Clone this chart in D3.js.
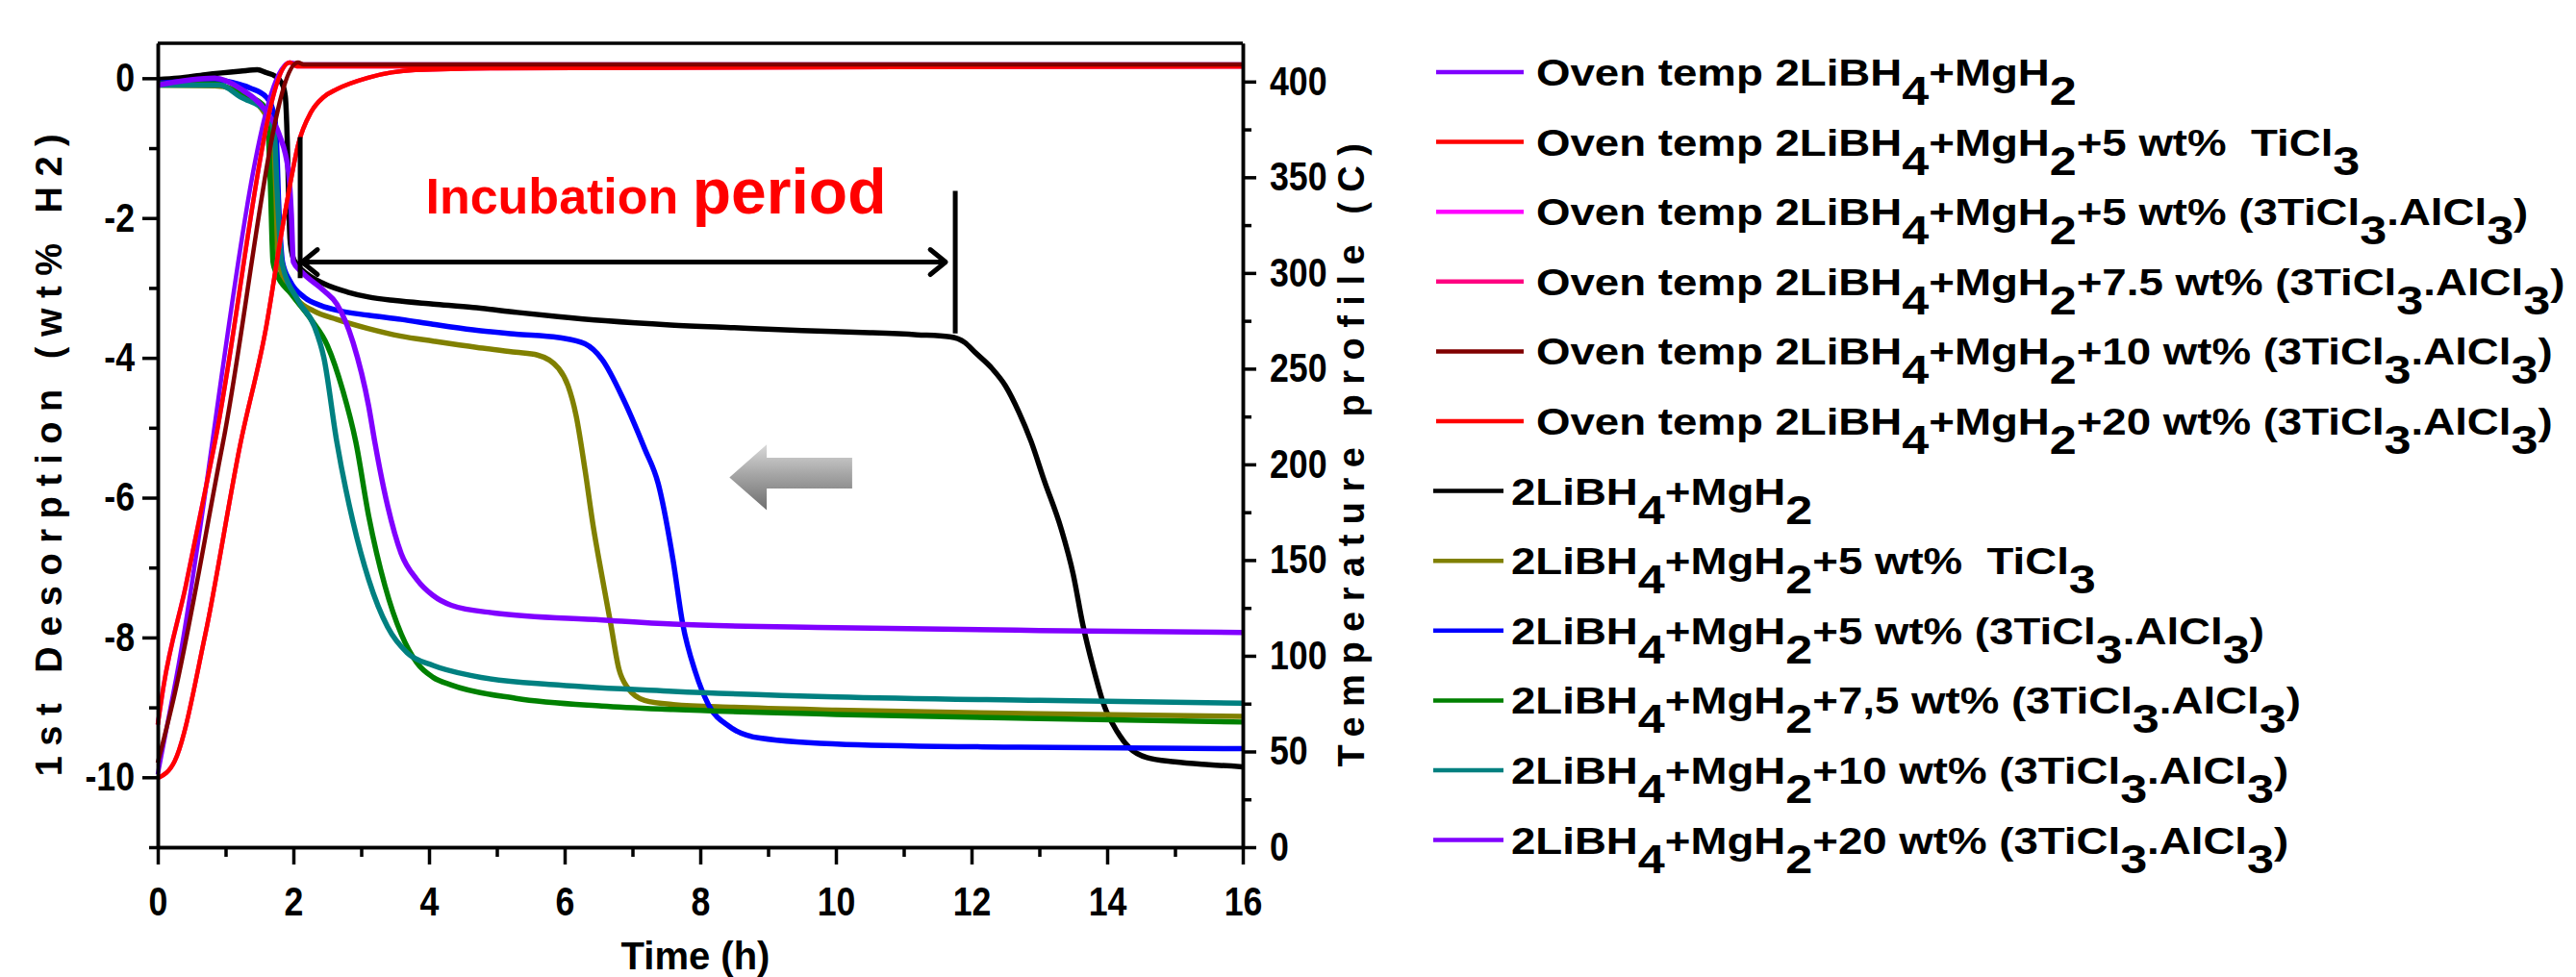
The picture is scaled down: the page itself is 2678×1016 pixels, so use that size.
<!DOCTYPE html>
<html>
<head>
<meta charset="utf-8">
<script src="https://cdn.jsdelivr.net/npm/d3@7"></script>
<style>
  body { margin: 0; background: #fff; }
  text { font-family: "Liberation Sans", Arial, sans-serif; }
</style>
</head>
<body>
<div id="chart"></div>
<script>
// axis ticks
const timeMajor = [0, 2, 4, 6, 8, 10, 12, 14, 16];
const timeMinor = [1, 3, 5, 7, 9, 11, 13, 15];
const wtMajor = [0, -2, -4, -6, -8, -10];
const wtMinor = [-1, -3, -5, -7, -9, -11];
const tempMajor = [0, 50, 100, 150, 200, 250, 300, 350, 400];
const tempMinor = [25, 75, 125, 175, 225, 275, 325, 375];

// desorption curves, [time h, wt% H2]
const desBlack = [[0,-0.02],[0.3,0.0],[0.7,0.05],[1.22,0.1],[1.47,0.12],[1.6,0.08],[1.73,0.03],[1.83,-0.07],[1.88,-0.25],[1.91,-0.9],[1.93,-1.7],[1.95,-2.3],[1.99,-2.55],[2.05,-2.66],[2.2,-2.8],[2.45,-2.94],[2.8,-3.06],[3.11,-3.13],[3.5,-3.18],[4.06,-3.23],[4.65,-3.28],[5.3,-3.35],[5.9,-3.41],[6.6,-3.47],[7.56,-3.53],[8.5,-3.57],[9.5,-3.61],[10.5,-3.64],[11.2,-3.67],[11.68,-3.7],[11.9,-3.78],[12.05,-3.92],[12.3,-4.15],[12.5,-4.4],[12.7,-4.78],[12.88,-5.2],[13.07,-5.75],[13.32,-6.44],[13.5,-7.1],[13.64,-7.81],[13.8,-8.45],[13.95,-8.96],[14.15,-9.35],[14.33,-9.58],[14.59,-9.72],[15,-9.78],[15.5,-9.82],[16,-9.85]];
const desOlive = [[0,-0.1],[0.84,-0.11],[1.1,-0.15],[1.3,-0.25],[1.5,-0.4],[1.62,-0.6],[1.7,-1.4],[1.75,-2.3],[1.8,-2.7],[2.07,-3.18],[2.3,-3.33],[2.64,-3.45],[3.1,-3.58],[3.59,-3.69],[4.06,-3.76],[4.7,-3.85],[5.28,-3.92],[5.6,-3.96],[5.91,-4.15],[6.05,-4.4],[6.17,-4.83],[6.3,-5.6],[6.42,-6.4],[6.55,-7.12],[6.68,-7.81],[6.8,-8.45],[6.93,-8.72],[7.18,-8.9],[7.6,-8.96],[8.5,-9.0],[10,-9.04],[13,-9.09],[16,-9.13]];
const desBlue = [[0,-0.07],[0.5,-0.04],[0.84,-0.02],[1.1,-0.06],[1.36,-0.14],[1.6,-0.27],[1.69,-0.43],[1.73,-0.6],[1.76,-1.1],[1.78,-1.72],[1.81,-2.3],[1.84,-2.63],[1.95,-2.9],[2.17,-3.14],[2.4,-3.25],[2.64,-3.32],[3.1,-3.39],[3.59,-3.45],[4.06,-3.52],[4.65,-3.6],[5.28,-3.66],[5.91,-3.71],[6.3,-3.8],[6.55,-4.02],[6.87,-4.6],[7.18,-5.3],[7.38,-5.8],[7.6,-6.9],[7.74,-7.8],[7.93,-8.5],[8.12,-8.96],[8.44,-9.28],[8.88,-9.44],[10.15,-9.53],[12.7,-9.57],[16,-9.59]];
const desGreen = [[0,-0.08],[0.84,-0.08],[1.22,-0.22],[1.55,-0.38],[1.62,-0.61],[1.66,-1.5],[1.7,-2.63],[1.74,-2.77],[1.97,-3.09],[2.26,-3.45],[2.5,-3.82],[2.73,-4.47],[2.92,-5.2],[3.11,-6.26],[3.35,-7.26],[3.59,-7.95],[3.82,-8.36],[4.06,-8.57],[4.33,-8.68],[5.28,-8.87],[6.55,-8.98],[7.6,-9.03],[10,-9.1],[13,-9.16],[16,-9.21]];
const desTeal = [[0,-0.1],[0.92,-0.1],[1.22,-0.27],[1.6,-0.48],[1.72,-0.8],[1.76,-1.6],[1.8,-2.3],[1.83,-2.63],[2.07,-3.18],[2.31,-3.55],[2.45,-4.0],[2.64,-5.2],[2.88,-6.35],[3.11,-7.17],[3.39,-7.85],[3.68,-8.22],[4.06,-8.4],[4.65,-8.55],[5.9,-8.68],[7.6,-8.77],[10,-8.85],[13,-8.9],[16,-8.94]];
const desPurple = [[0,-0.1],[0.84,0],[1.22,-0.15],[1.6,-0.48],[1.79,-0.8],[1.93,-1.35],[1.97,-1.94],[2.0,-2.63],[2.12,-2.77],[2.45,-3.04],[2.64,-3.23],[2.88,-3.78],[3.11,-4.69],[3.2,-5.2],[3.39,-6.12],[3.59,-6.8],[3.82,-7.17],[4.06,-7.4],[4.33,-7.54],[4.96,-7.65],[6.55,-7.75],[7.6,-7.81],[10,-7.86],[13,-7.9],[16,-7.93]];

// oven temperature profiles, [time h, degC]
const ovenPurple = [[0,38],[0.27,88],[1.95,410],[2.1,409],[16,409]];
const ovenRed5 = [[0,64],[0.085,84],[0.41,136],[0.84,211],[1.95,410],[2.05,408],[16,408]];
const ovenMagenta = [[0,64],[0.085,84],[0.41,136],[0.84,211],[1.95,410],[2.05,408],[16,408]];
const ovenPink = [[0,36],[0.25,45],[0.7,111],[1.22,211],[1.6,272],[1.83,322],[1.95,346],[2.07,367],[2.26,384],[2.45,392],[2.64,396],[3.1,402],[3.8,406],[5,407],[16,408]];
const ovenDarkRed = [[0,44],[0.23,77],[0.96,211],[2.07,410],[2.15,409],[16,409]];
const ovenRed20 = [[0,36],[0.25,45],[0.7,111],[1.22,211],[1.6,272],[1.83,322],[1.95,346],[2.07,367],[2.26,384],[2.45,392],[2.64,396],[3.1,402],[3.8,406],[5,407],[16,408]];

const ovenLabels = [
  'Oven temp 2LiBH_4+MgH_2',
  'Oven temp 2LiBH_4+MgH_2+5 wt%  TiCl_3',
  'Oven temp 2LiBH_4+MgH_2+5 wt% (3TiCl_3.AlCl_3)',
  'Oven temp 2LiBH_4+MgH_2+7.5 wt% (3TiCl_3.AlCl_3)',
  'Oven temp 2LiBH_4+MgH_2+10 wt% (3TiCl_3.AlCl_3)',
  'Oven temp 2LiBH_4+MgH_2+20 wt% (3TiCl_3.AlCl_3)'
];
const desLabels = [
  '2LiBH_4+MgH_2',
  '2LiBH_4+MgH_2+5 wt%  TiCl_3',
  '2LiBH_4+MgH_2+5 wt% (3TiCl_3.AlCl_3)',
  '2LiBH_4+MgH_2+7,5 wt% (3TiCl_3.AlCl_3)',
  '2LiBH_4+MgH_2+10 wt% (3TiCl_3.AlCl_3)',
  '2LiBH_4+MgH_2+20 wt% (3TiCl_3.AlCl_3)'
];
const ovenColors = ['#8000ff', '#ff0000', '#ff00ff', '#ff0080', '#800000', '#ff0000'];
const desColors = ['#000000', '#808000', '#0000ff', '#008000', '#008080', '#8000ff'];

const W = 2678, H = 1016;
const plot = {left: 164, right: 1292, top: 45, bottom: 881};

const svg = d3.select('#chart').append('svg')
  .attr('width', W).attr('height', H)
  .attr('viewBox', `0,0,${W},${H}`);

const x = d3.scaleLinear().domain([0, 16]).range([plot.left, plot.right]);
const yL = d3.scaleLinear().domain([-11, 0.5]).range([plot.bottom, plot.top]);
const yR = d3.scaleLinear().domain([0, 420]).range([plot.bottom, plot.top]);

const lineL = d3.line().x(d => x(d[0])).y(d => yL(d[1])).curve(d3.curveMonotoneX);
const lineR = d3.line().x(d => x(d[0])).y(d => yR(d[1])).curve(d3.curveMonotoneX);

// desorption curves
const desSeries = [desBlack, desOlive, desBlue, desGreen, desTeal, desPurple];
svg.append('g').selectAll('path')
  .data(desSeries)
  .join('path')
  .attr('fill', 'none')
  .attr('stroke', (d, i) => desColors[i])
  .attr('stroke-width', 5.5)
  .attr('stroke-linejoin', 'round')
  .attr('d', lineL);

// oven temperatures (drawn on top, reds last)
const ovenSeries = [ovenPurple, ovenRed5, ovenMagenta, ovenPink, ovenDarkRed, ovenRed20];
const ovenOrder = [0, 2, 3, 1, 5, 4];
svg.append('g').selectAll('path')
  .data(ovenOrder)
  .join('path')
  .attr('fill', 'none')
  .attr('stroke', i => ovenColors[i])
  .attr('stroke-width', 4.5)
  .attr('stroke-linejoin', 'round')
  .attr('d', i => lineR(ovenSeries[i]));

// axes
const axisStyle = g => {
  g.selectAll('path.domain').attr('stroke', '#000').attr('stroke-width', 3.5);
  g.selectAll('.tick line').attr('stroke', '#000').attr('stroke-width', 3.5);
  g.selectAll('.tick text')
    .attr('font-size', 42).attr('font-weight', 'bold').attr('fill', '#000')
    .attr('font-family', '"Liberation Sans", Arial, sans-serif')
    .each(function () {
      // condensed digits, as in the original figure
      const t = d3.select(this);
      const tx = +t.attr('x') || 0;
      t.attr('x', 0).attr('transform', `translate(${tx},0) scale(0.85,1)`);
    });
};

svg.append('g')
  .attr('transform', `translate(0,${plot.bottom})`)
  .call(d3.axisBottom(x).tickValues(timeMinor).tickSize(10).tickSizeOuter(0).tickFormat(''))
  .call(axisStyle);
svg.append('g')
  .attr('transform', `translate(0,${plot.bottom})`)
  .call(d3.axisBottom(x).tickValues(timeMajor).tickSize(18).tickPadding(23).tickSizeOuter(0).tickFormat(d => String(d)))
  .call(axisStyle);

svg.append('g')
  .attr('transform', `translate(${plot.left},0)`)
  .call(d3.axisLeft(yL).tickValues(wtMinor).tickSize(9).tickSizeOuter(0).tickFormat(''))
  .call(axisStyle);
svg.append('g')
  .attr('transform', `translate(${plot.left},0)`)
  .call(d3.axisLeft(yL).tickValues(wtMajor).tickSize(16).tickPadding(8).tickSizeOuter(0).tickFormat(d => String(d)))
  .call(axisStyle);

svg.append('g')
  .attr('transform', `translate(${plot.right},0)`)
  .call(d3.axisRight(yR).tickValues(tempMinor).tickSize(9).tickSizeOuter(0).tickFormat(''))
  .call(axisStyle);
svg.append('g')
  .attr('transform', `translate(${plot.right},0)`)
  .call(d3.axisRight(yR).tickValues(tempMajor).tickSize(14).tickPadding(14).tickSizeOuter(0).tickFormat(d => String(d)))
  .call(axisStyle);

// top frame
svg.append('line')
  .attr('x1', x(0)).attr('x2', x(16))
  .attr('y1', yL(0.5)).attr('y2', yL(0.5))
  .attr('stroke', '#000').attr('stroke-width', 3.5);

// axis titles
svg.append('text')
  .attr('transform', `translate(64,${(plot.top + plot.bottom) / 2 + 5}) rotate(-90)`)
  .attr('text-anchor', 'middle')
  .attr('font-size', 38).attr('font-weight', 'bold')
  .attr('letter-spacing', 10.5)
  .text('1st Desorption (wt% H2)');

svg.append('text')
  .attr('transform', `translate(1418,${(plot.top + plot.bottom) / 2 + 5}) rotate(-90)`)
  .attr('text-anchor', 'middle')
  .attr('font-size', 38).attr('font-weight', 'bold')
  .attr('letter-spacing', 10.5)
  .text('Temperature profile (C)');

svg.append('text')
  .attr('x', (plot.left + plot.right) / 2 - 5).attr('y', 1008)
  .attr('text-anchor', 'middle')
  .attr('font-size', 40).attr('font-weight', 'bold')
  .text('Time (h)');

// incubation annotation
const barL = {t: 2.1, top: -0.84, bot: -2.86};
const barR = {t: 11.76, top: -1.61, bot: -3.65};
const arrowY = -2.63;
const ann = svg.append('g').attr('stroke', '#000').attr('stroke-width', 5).attr('fill', 'none');
ann.append('line').attr('x1', x(barL.t)).attr('x2', x(barL.t)).attr('y1', yL(barL.top)).attr('y2', yL(barL.bot));
ann.append('line').attr('x1', x(barR.t)).attr('x2', x(barR.t)).attr('y1', yL(barR.top)).attr('y2', yL(barR.bot));
const ax0 = x(barL.t) + 2, ax1 = x(barR.t) - 10, ay = yL(arrowY);
ann.append('line').attr('x1', ax0).attr('x2', ax1).attr('y1', ay).attr('y2', ay);
ann.append('path').attr('stroke-linecap', 'round').attr('stroke-linejoin', 'round')
  .attr('d', `M${ax0 + 16},${ay - 13}L${ax0},${ay}L${ax0 + 16},${ay + 13}`);
ann.append('path').attr('stroke-linecap', 'round').attr('stroke-linejoin', 'round')
  .attr('d', `M${ax1 - 16},${ay - 13}L${ax1},${ay}L${ax1 - 16},${ay + 13}`);

const inc = svg.append('text')
  .attr('x', x(3.95)).attr('y', yL(-1.93))
  .attr('fill', '#ff0000').attr('font-weight', 'bold')
  .style('white-space', 'pre');
inc.append('tspan').attr('font-size', 52).text('Incubation ');
inc.append('tspan').attr('font-size', 66).text('period');

// grey block arrow
const defs = svg.append('defs');
const grad = defs.append('linearGradient').attr('id', 'greyGrad')
  .attr('x1', 0).attr('y1', 0).attr('x2', 0).attr('y2', 1);
grad.append('stop').attr('offset', '0%').attr('stop-color', '#d9d9d9');
grad.append('stop').attr('offset', '45%').attr('stop-color', '#a6a6a6');
grad.append('stop').attr('offset', '100%').attr('stop-color', '#6e6e6e');
const ga = {tip: 8.43, back: 8.98, tail: 10.24, mid: -5.71, headTop: -5.24, headBot: -6.18, shaftTop: -5.43, shaftBot: -5.87};
svg.append('path')
  .attr('fill', 'url(#greyGrad)')
  .attr('d', `M${x(ga.tip)},${yL(ga.mid)}L${x(ga.back)},${yL(ga.headTop)}L${x(ga.back)},${yL(ga.shaftTop)}` +
    `L${x(ga.tail)},${yL(ga.shaftTop)}L${x(ga.tail)},${yL(ga.shaftBot)}L${x(ga.back)},${yL(ga.shaftBot)}` +
    `L${x(ga.back)},${yL(ga.headBot)}Z`);

// legend
const SUB_DY = 20;
function richText(sel, label) {
  const parts = label.split(/_(\d)/);
  let shift = 0;
  parts.forEach((p, i) => {
    if (!p) return;
    const sub = i % 2 === 1;
    const dy = (sub ? SUB_DY : 0) - shift;
    shift = sub ? SUB_DY : 0;
    const ts = sel.append('tspan').text(p);
    if (dy) ts.attr('dy', dy);
    if (sub) ts.attr('font-size', 43);
  });
}

const rowY0 = 75, rowStep = 72.6;
const legendRows = ovenLabels.map((l, i) => ({label: l, color: ovenColors[i], x0: 1493, x1: 1584, tx: 1597}))
  .concat(desLabels.map((l, i) => ({label: l, color: desColors[i], x0: 1490, x1: 1563, tx: 1571})));

const leg = svg.append('g');
legendRows.forEach((r, i) => {
  const y = rowY0 + i * rowStep;
  leg.append('line')
    .attr('x1', r.x0).attr('x2', r.x1).attr('y1', y).attr('y2', y)
    .attr('stroke', r.color).attr('stroke-width', 4.5);
  const t = leg.append('text')
    .attr('transform', `translate(${r.tx},${y + 14}) scale(1.17,1)`)
    .attr('font-size', 39).attr('font-weight', 'bold')
    .style('white-space', 'pre');
  richText(t, r.label);
});
</script>
</body>
</html>
